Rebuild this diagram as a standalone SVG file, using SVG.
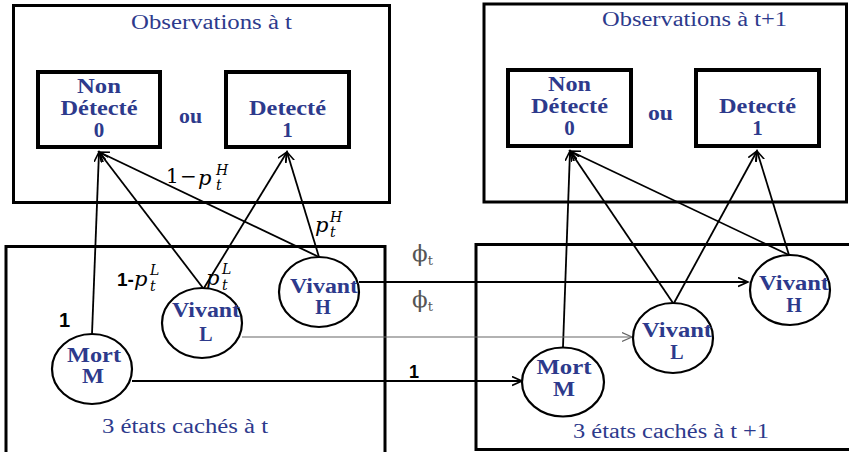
<svg xmlns="http://www.w3.org/2000/svg" width="849" height="452" viewBox="0 0 849 452">
<defs>
<style>
.frame{fill:none;stroke:#000;stroke-width:3}
.obs{fill:#fff;stroke:#000;stroke-width:4}
.state{fill:#fff;stroke:#000;stroke-width:2.2}
.title{font-family:"Liberation Serif",serif;font-size:20px;fill:#2d3a8c;text-anchor:middle}
.lbl{font-family:"Liberation Serif",serif;font-weight:bold;font-size:20px;fill:#2d3a8c;text-anchor:middle}
.dig{font-size:21px}
.conn line{stroke:#000;stroke-width:1.8;fill:none}
.math{font-family:"DejaVu Serif","Liberation Serif",serif;font-style:italic;fill:#000}
.up{font-family:"DejaVu Serif","Liberation Serif",serif;fill:#000}
.num{font-family:"Liberation Sans",sans-serif;font-weight:bold;fill:#000}
.phi{font-family:"DejaVu Serif","Liberation Serif",serif;fill:#555}
</style>
<marker id="arr" markerUnits="userSpaceOnUse" markerWidth="12" markerHeight="12" refX="10" refY="5" orient="auto">
<path d="M0,0.5 L10,5 L0,9.5" fill="none" stroke="#000" stroke-width="1.6"/>
</marker>
<marker id="arrg" markerUnits="userSpaceOnUse" markerWidth="12" markerHeight="12" refX="10" refY="5" orient="auto">
<path d="M0,0.5 L10,5 L0,9.5" fill="none" stroke="#666" stroke-width="1.2"/>
</marker>
</defs>
<rect width="849" height="452" fill="#fff"/>

<!-- frames -->
<g id="frame-obs-t">
<rect class="frame" x="13.5" y="5.5" width="376" height="197"/>
<text class="title" x="211.5" y="29" textLength="161" lengthAdjust="spacingAndGlyphs">Observations à t</text>
</g>
<g id="frame-obs-t1">
<rect class="frame" x="484" y="4" width="362.5" height="198"/>
<text class="title" x="694.5" y="26" textLength="185" lengthAdjust="spacingAndGlyphs">Observations à t+1</text>
</g>
<g id="frame-hidden-t">
<rect class="frame" x="6" y="246.5" width="379" height="220"/>
<text class="title" x="185" y="433" textLength="166" lengthAdjust="spacingAndGlyphs">3 états cachés à t</text>
</g>
<g id="frame-hidden-t1">
<rect class="frame" x="476" y="244.5" width="390" height="205"/>
<text class="title" x="671" y="438" textLength="196" lengthAdjust="spacingAndGlyphs">3 états cachés à t +1</text>
</g>

<!-- observation nodes -->
<g id="nondetecte-t">
<rect class="obs" x="38" y="72" width="122" height="75"/>
<text class="lbl" x="99" y="93" textLength="44" lengthAdjust="spacingAndGlyphs">Non</text>
<text class="lbl" x="99" y="115" textLength="77" lengthAdjust="spacingAndGlyphs">Détecté</text>
<text class="lbl dig" x="99" y="137">0</text>
</g>
<g id="ou-t"><text class="lbl" x="190.5" y="123" textLength="23" lengthAdjust="spacingAndGlyphs">ou</text></g>
<g id="detecte-t">
<rect class="obs" x="226" y="72" width="123" height="75"/>
<text class="lbl" x="287.5" y="115" textLength="77" lengthAdjust="spacingAndGlyphs">Detecté</text>
<text class="lbl dig" x="287.5" y="137">1</text>
</g>
<g id="nondetecte-t1">
<rect class="obs" x="508" y="70" width="123" height="76"/>
<text class="lbl" x="569.5" y="91" textLength="43" lengthAdjust="spacingAndGlyphs">Non</text>
<text class="lbl" x="569.5" y="113" textLength="77" lengthAdjust="spacingAndGlyphs">Détecté</text>
<text class="lbl dig" x="569.5" y="135">0</text>
</g>
<g id="ou-t1"><text class="lbl" x="660.5" y="120" textLength="25" lengthAdjust="spacingAndGlyphs">ou</text></g>
<g id="detecte-t1">
<rect class="obs" x="696" y="70" width="123" height="76"/>
<text class="lbl" x="757.5" y="113" textLength="77" lengthAdjust="spacingAndGlyphs">Detecté</text>
<text class="lbl dig" x="757.5" y="135">1</text>
</g>

<!-- connectors -->
<g id="connectors" class="conn">
<line x1="92" y1="334" x2="99" y2="152" marker-end="url(#arr)"/>
<line x1="203" y1="288" x2="99" y2="152" marker-end="url(#arr)"/>
<line x1="319" y1="257" x2="99" y2="152" marker-end="url(#arr)"/>
<line x1="204" y1="288" x2="287" y2="152" marker-end="url(#arr)"/>
<line x1="319" y1="257" x2="287" y2="152" marker-end="url(#arr)"/>
<line x1="563" y1="347" x2="570" y2="151" marker-end="url(#arr)"/>
<line x1="673" y1="303" x2="570" y2="151" marker-end="url(#arr)"/>
<line x1="789" y1="255" x2="570" y2="151" marker-end="url(#arr)"/>
<line x1="674" y1="303" x2="757" y2="151" marker-end="url(#arr)"/>
<line x1="789" y1="255" x2="757" y2="151" marker-end="url(#arr)"/>
<line x1="359" y1="282" x2="748" y2="282" stroke-width="1.6" marker-end="url(#arr)"/>
<line x1="242" y1="337" x2="632" y2="337" style="stroke:#666;stroke-width:1.2" marker-end="url(#arrg)"/>
<line x1="132" y1="381" x2="522" y2="381" style="stroke-width:2" marker-end="url(#arr)"/>
</g>

<!-- hidden state nodes -->
<g id="mort-t">
<ellipse class="state" cx="92" cy="369" rx="40" ry="35"/>
<text class="lbl" x="94" y="362" textLength="54" lengthAdjust="spacingAndGlyphs">Mort</text>
<text class="lbl" x="93" y="383" textLength="22" lengthAdjust="spacingAndGlyphs">M</text>
</g>
<g id="vivantL-t">
<ellipse class="state" cx="202" cy="323" rx="40" ry="35"/>
<text class="lbl" x="206" y="317" textLength="68" lengthAdjust="spacingAndGlyphs">Vivant</text>
<text class="lbl" x="206" y="341">L</text>
</g>
<g id="vivantH-t">
<ellipse class="state" cx="319" cy="292" rx="40" ry="35"/>
<text class="lbl" x="324" y="293" textLength="68" lengthAdjust="spacingAndGlyphs">Vivant</text>
<text class="lbl" x="323" y="314">H</text>
</g>
<g id="mort-t1">
<ellipse class="state" cx="563" cy="382" rx="41" ry="34.5"/>
<text class="lbl" x="564" y="374" textLength="55" lengthAdjust="spacingAndGlyphs">Mort</text>
<text class="lbl" x="564" y="396" textLength="22" lengthAdjust="spacingAndGlyphs">M</text>
</g>
<g id="vivantL-t1">
<ellipse class="state" cx="673" cy="338" rx="40" ry="35"/>
<text class="lbl" x="677" y="337" textLength="70" lengthAdjust="spacingAndGlyphs">Vivant</text>
<text class="lbl" x="677" y="359">L</text>
</g>
<g id="vivantH-t1">
<ellipse class="state" cx="790" cy="290" rx="40" ry="35"/>
<text class="lbl" x="794" y="290" textLength="70" lengthAdjust="spacingAndGlyphs">Vivant</text>
<text class="lbl" x="794" y="312">H</text>
</g>

<!-- edge labels -->
<g id="labels">
<text class="up" x="166" y="183" font-size="20">1</text>
<text class="up" x="180" y="183" font-size="20">−</text>
<text class="math" x="198" y="185" font-size="21">p</text>
<text class="math" x="216" y="175" font-size="14">H</text>
<text class="math" x="216" y="190" font-size="14">t</text>

<text class="math" x="315" y="232" font-size="21">p</text>
<text class="math" x="330" y="222" font-size="14">H</text>
<text class="math" x="330" y="237" font-size="14">t</text>

<text class="num" x="117" y="286" font-size="19">1-</text>
<text class="math" x="134" y="286" font-size="21">p</text>
<text class="math" x="150" y="275" font-size="14">L</text>
<text class="math" x="150" y="291" font-size="14">t</text>

<text class="math" x="206" y="285" font-size="21">p</text>
<text class="math" x="222" y="274" font-size="14">L</text>
<text class="math" x="222" y="290" font-size="14">t</text>

<text class="num" x="59" y="327" font-size="20">1</text>
<text class="num" x="409" y="378" font-size="18">1</text>

<text class="phi" x="412" y="261" font-size="23">ϕ<tspan font-size="13" dy="4">t</tspan></text>
<text class="phi" x="412" y="307" font-size="23">ϕ<tspan font-size="13" dy="4">t</tspan></text>
</g>
</svg>
